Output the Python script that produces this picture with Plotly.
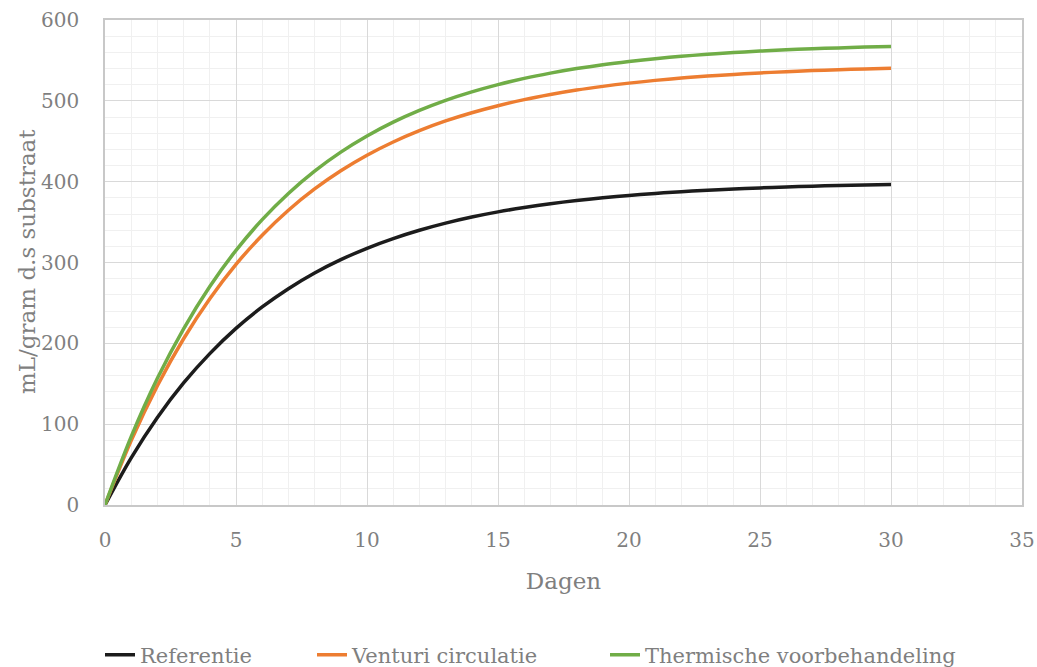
import plotly.graph_objects as go

dagen = list(range(0, 31))
referentie = [0, 58.4, 108.3, 151.0, 187.3, 218.5, 245.0, 267.6, 287.0, 303.5, 317.6,
              329.6, 339.9, 348.7, 356.2, 362.6, 368.0, 372.7, 376.7, 380.1, 383.0,
              385.5, 387.6, 389.4, 391.0, 392.3, 393.4, 394.4, 395.2, 395.9, 396.5]
venturi = [0, 79.6, 147.6, 205.7, 255.2, 297.7, 333.8, 364.7, 391.0, 413.5, 432.7,
           449.1, 463.1, 475.1, 485.3, 494.0, 501.5, 507.8, 513.3, 517.9, 521.9,
           525.3, 528.2, 530.6, 532.7, 534.5, 536.1, 537.4, 538.5, 539.4, 540.3]
thermisch = [0, 84.6, 156.7, 218.0, 270.4, 315.0, 353.0, 385.4, 413.0, 436.5, 456.5,
             473.6, 488.1, 500.6, 511.1, 520.1, 527.8, 534.3, 539.9, 544.7, 548.7,
             552.2, 555.1, 557.6, 559.7, 561.5, 563.1, 564.4, 565.5, 566.5, 567.3]

series = [
    ("Referentie", referentie, "#1c1c1c", "legend", 100),
    ("Venturi circulatie", venturi, "#ED7D31", "legend2", 312),
    ("Thermische voorbehandeling", thermisch, "#70AD47", "legend3", 605),
]

W, H = 1037, 667
ML, MR, MT, MB = 105, 15, 20, 162
FONT = "DejaVu Serif"
GREY = "#7f7f7f"
fig = go.Figure()
legends = {}
for name, vals, col, lg, xpos in series:
    fig.add_trace(go.Scatter(x=dagen, y=vals, name=name, mode="lines", legend=lg,
                             line=dict(color=col, width=3.5, shape="spline")))
    legends[lg] = dict(xref="container", yref="container", x=xpos / W, xanchor="left",
                       y=1 - 655 / H, yanchor="middle", bgcolor="rgba(0,0,0,0)",
                       font=dict(family=FONT, size=21, color=GREY))

plot_w = W - ML - MR
plot_h = H - MT - MB
fig.add_annotation(text="mL/gram d.s substraat", textangle=-90, showarrow=False,
                   xref="paper", yref="paper", x=(27 - ML) / plot_w, y=(H - MB - 262) / plot_h,
                   xanchor="center", yanchor="middle",
                   font=dict(family=FONT, size=23, color=GREY))

fig.update_layout(
    width=W, height=H,
    paper_bgcolor="white", plot_bgcolor="white",
    margin=dict(l=ML, r=MR, t=MT, b=MB, autoexpand=False),
    font=dict(family=FONT, color=GREY, size=20),
    showlegend=True,
    **legends,
    xaxis=dict(range=[0, 35], dtick=5, tick0=0, showgrid=True, gridcolor="#d9d9d9",
               gridwidth=1.3, zeroline=False, showline=True, linecolor="#c8c8c8",
               linewidth=1.5, mirror=True, ticks="", ticklen=0, automargin=False,
               ticklabelstandoff=16,
               minor=dict(dtick=1, showgrid=True, gridcolor="#f0f0f0", gridwidth=1.3),
               title=dict(text="Dagen", font=dict(family=FONT, size=23, color=GREY),
                          standoff=22),
               tickfont=dict(family=FONT, size=20, color=GREY)),
    yaxis=dict(range=[0, 600], dtick=100, tick0=0, showgrid=True, gridcolor="#d9d9d9",
               gridwidth=1.3, zeroline=False, showline=True, linecolor="#c8c8c8",
               linewidth=1.5, mirror=True, ticks="", ticklen=0, automargin=False,
               ticklabelstandoff=20,
               minor=dict(dtick=20, showgrid=True, gridcolor="#f0f0f0", gridwidth=1.3),
               tickfont=dict(family=FONT, size=20, color=GREY)),
)

fig.write_html("out.html")
